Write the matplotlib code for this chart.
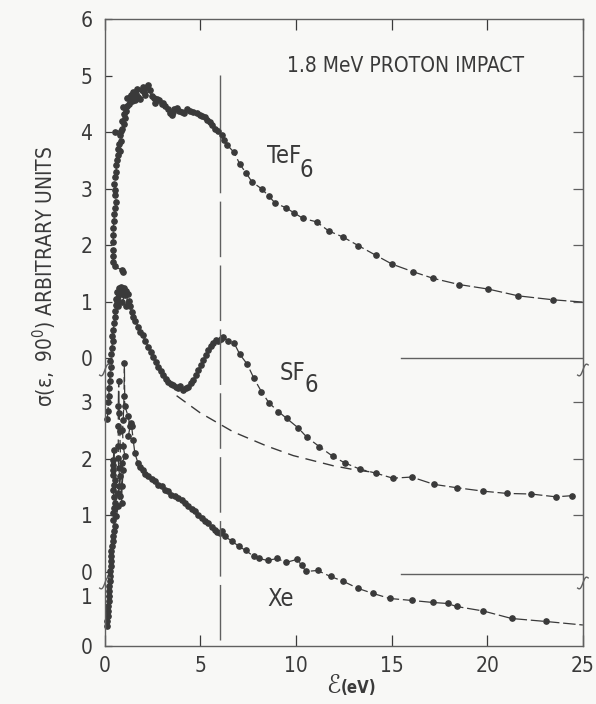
import numpy as np
import matplotlib
matplotlib.use('Agg')
import matplotlib.pyplot as plt

plt.rcParams['font.family'] = 'DejaVu Sans'
plt.rcParams['font.stretch'] = 'condensed'
plt.rcParams['mathtext.default'] = 'regular'

INK = '#3a3a3a'
GREY = '#606060'

# TeF6 curve, E in eV, sigma in arbitrary units of its own panel
tef6_E = [0.94, 0.87, 0.52, 0.45, 0.42, 0.44, 0.42, 0.45, 0.44, 0.47, 0.50, 0.55,
          0.58, 0.52, 0.55, 0.50, 0.54, 0.60, 0.58, 0.63, 0.70, 0.66, 0.78, 0.75,
          0.84, 0.78, 0.52, 0.82, 0.92, 0.98, 0.88, 1.05, 1.00, 1.10, 0.95, 1.13,
          1.25, 1.18, 1.40, 1.30, 1.45, 1.52, 1.38, 1.62, 1.70, 1.75, 1.58, 1.85,
          1.92, 2.05, 1.98, 2.18, 2.27, 2.12, 2.35, 2.44, 2.55, 2.70, 2.62, 2.82,
          2.98, 3.14, 3.05, 3.28, 3.40, 3.49, 3.55, 3.62, 3.75, 3.90, 4.01, 4.15,
          4.30, 4.45, 4.60, 4.80, 4.95, 5.10, 5.23, 5.35, 5.49, 5.62, 5.75, 5.90,
          6.10, 6.25, 6.40, 6.75, 7.06, 7.37, 7.69, 8.21, 8.56, 8.91, 9.47, 9.88,
          10.37, 11.07, 11.70, 12.46, 13.25, 14.16, 15.03, 16.09, 17.17, 18.53,
          20.05, 21.62, 23.45, 25.0]
tef6_s = [1.52, 1.56, 1.62, 1.70, 1.80, 1.92, 2.05, 2.18, 2.30, 2.42, 2.55, 2.66,
          2.76, 2.88, 2.98, 3.08, 3.20, 3.30, 3.42, 3.50, 3.60, 3.70, 3.66, 3.78,
          3.84, 3.94, 4.00, 4.02, 4.06, 4.15, 4.20, 4.24, 4.32, 4.38, 4.45, 4.46,
          4.50, 4.60, 4.55, 4.62, 4.70, 4.60, 4.66, 4.68, 4.76, 4.62, 4.56, 4.58,
          4.74, 4.70, 4.80, 4.80, 4.84, 4.66, 4.74, 4.64, 4.60, 4.58, 4.52, 4.56,
          4.50, 4.46, 4.52, 4.40, 4.34, 4.30, 4.36, 4.40, 4.42, 4.38, 4.36, 4.34,
          4.40, 4.38, 4.35, 4.33, 4.30, 4.28, 4.26, 4.22, 4.18, 4.12, 4.06, 4.02,
          3.95, 3.85, 3.77, 3.64, 3.43, 3.28, 3.12, 2.99, 2.87, 2.74, 2.66, 2.57,
          2.47, 2.41, 2.25, 2.14, 1.99, 1.82, 1.66, 1.53, 1.41, 1.30,
          1.22, 1.10, 1.03, 0.99]

# SF6 curve
sf6_E = [0.12, 0.16, 0.18, 0.22, 0.20, 0.25, 0.27, 0.30, 0.28, 0.33, 0.36, 0.40,
         0.38, 0.44, 0.48, 0.52, 0.55, 0.60, 0.58, 0.65, 0.72, 0.62, 0.80, 0.85,
         0.70, 0.92, 1.00, 0.90, 1.05, 1.12, 1.20, 1.10, 1.25, 1.32, 1.40, 1.48,
         1.60, 1.74, 1.85, 2.00, 2.12, 2.27, 2.40, 2.53, 2.65, 2.79, 2.92, 3.05,
         3.18, 3.31, 3.45, 3.57, 3.70, 3.83, 3.95, 4.10, 4.22, 4.36, 4.50, 4.62,
         4.75, 4.88, 5.01, 5.14, 5.27, 5.40, 5.53, 5.66, 5.80, 5.93, 6.05, 6.19,
         6.45, 6.76, 7.06, 7.44, 7.79, 8.19, 8.59, 9.07, 9.50, 10.11, 10.55, 11.21,
         11.91, 12.55, 13.34, 14.16, 15.06, 16.05, 17.22, 18.43, 19.79, 21.04,
         22.28, 23.59, 24.41]
sf6_s = [2.70, 2.85, 3.00, 3.12, 3.25, 3.38, 3.50, 3.62, 3.74, 3.85, 3.96, 4.08,
         4.18, 4.28, 4.40, 4.52, 4.62, 4.72, 4.84, 4.95, 5.02, 4.80, 4.92, 5.04,
         4.70, 4.96, 5.02, 4.78, 4.90, 4.98, 4.92, 4.70, 4.80, 4.70, 4.60, 4.52,
         4.45, 4.34, 4.25, 4.19, 4.08, 3.99, 3.90, 3.81, 3.72, 3.63, 3.55, 3.49,
         3.42, 3.37, 3.33, 3.31, 3.27, 3.25, 3.30, 3.22, 3.26, 3.28, 3.34, 3.40,
         3.48, 3.58, 3.66, 3.75, 3.84, 3.93, 4.00, 4.05, 4.10, 4.08, 4.12, 4.16,
         4.08, 4.05, 3.85, 3.68, 3.43, 3.19, 2.99, 2.84, 2.72, 2.55, 2.39, 2.22,
         2.05, 1.93, 1.82, 1.75, 1.66, 1.68, 1.55, 1.49, 1.43, 1.39,
         1.38, 1.33, 1.35]

# SF6 background (dashed)
sf6_bg_E = [3.75, 4.97, 6.71, 8.46, 9.85, 11.94, 13.20, 14.20]
sf6_bg_s = [3.12, 2.82, 2.48, 2.23, 2.06, 1.88, 1.80, 1.76]

# Xe curve
xe_E = [0.09, 0.13, 0.17, 0.17, 0.17, 0.20, 0.23, 0.22, 0.23, 0.26, 0.26, 0.28,
        0.30, 0.30, 0.31, 0.33, 0.35, 0.40, 0.44, 0.48, 0.52, 0.45, 0.44, 0.50,
        0.52, 0.47, 0.44, 0.50, 0.52, 0.45, 0.44, 0.42, 0.44, 0.47,
        0.60, 0.70, 0.78, 0.70, 0.75, 0.78, 0.72, 0.70, 0.70, 0.70, 0.70, 0.72,
        0.75, 0.78, 0.87, 0.90, 0.96, 0.87, 1.05, 0.96, 0.92, 0.96, 1.00, 1.02,
        1.04, 1.22, 1.31, 1.22, 1.35, 1.40, 1.48, 1.57, 1.74, 1.85, 2.00, 2.12,
        2.27, 2.45, 2.62, 2.80, 2.97, 3.14, 3.31, 3.48, 3.66, 3.84, 4.01, 4.18,
        4.36, 4.53, 4.71, 4.88, 5.06, 5.23, 5.40, 5.58, 5.75, 5.88, 6.01, 6.10,
        6.28, 6.63, 7.02, 7.37, 7.79, 8.07, 8.51, 9.01, 9.47, 10.03, 10.29, 10.51,
        11.12, 11.80, 12.43, 13.25, 14.03, 14.90, 16.07, 17.17, 17.92, 18.39,
        19.79, 21.27, 23.07, 25.0]
xe_s = [0.39, 0.50, 0.59, 0.70, 0.79, 0.90, 0.99, 1.10, 1.19, 1.30, 1.39, 1.50,
        1.59, 1.70, 1.79, 1.90, 1.99, 2.10, 2.19, 2.30, 2.39, 2.52, 2.65, 2.75,
        2.85, 2.98, 3.12, 3.22, 3.32, 3.42, 3.52, 3.62, 3.72, 3.92,
        2.60, 2.79, 3.00, 3.05, 3.20, 3.39, 3.55, 3.75, 4.00, 4.40, 4.80, 5.30,
        4.66, 4.30, 2.85, 3.19, 3.52, 3.65, 3.79, 3.99, 4.32, 4.52, 5.00, 5.66,
        4.80, 4.59, 4.39, 4.19, 4.45, 4.39, 4.12, 3.85, 3.65, 3.58, 3.52, 3.44,
        3.39, 3.33, 3.29, 3.22, 3.19, 3.12, 3.09, 3.02, 2.99, 2.95, 2.92, 2.85,
        2.79, 2.74, 2.69, 2.62, 2.55, 2.50, 2.45, 2.38, 2.32, 2.28, 2.25, 2.30,
        2.19, 2.10, 1.99, 1.91, 1.79, 1.75, 1.71, 1.75, 1.67, 1.73, 1.62, 1.49,
        1.51, 1.39, 1.30, 1.15, 1.05, 0.95, 0.91, 0.87, 0.85, 0.79,
        0.70, 0.55, 0.49, 0.42]

# panel placement on the common vertical scale (in TeF6 units)
TEF6_OFFSET, TEF6_SCALE = 5.097, 1.0
SF6_OFFSET, SF6_SCALE = 1.31, 1.0
XE_OFFSET, XE_SCALE = 0.0, 0.885

tef6_ticks = [0, 1, 2, 3, 4, 5, 6]
sf6_ticks = [0, 1, 2, 3]
xe_ticks = [0, 1]
x_ticks = [0, 5, 10, 15, 20, 25]


def place(vals, offset, scale):
    return offset + scale * np.asarray(vals)


fig = plt.figure(figsize=(5.96, 7.04), dpi=100, facecolor='#f8f8f6')
ax = fig.add_axes([0.176, 0.0824, 0.802, 0.8906])
ax.set_facecolor('#f8f8f6')
ax.set_xlim(0, 25)
ax.set_ylim(0, 11.097)

curve_style = dict(color=INK, lw=0.9, ls=(0, (10, 3)), marker='o', ms=3.8,
                   mec=INK, mfc=INK, clip_on=False)
ax.plot(tef6_E, place(tef6_s, TEF6_OFFSET, TEF6_SCALE), markevery=slice(0, -1), **curve_style)
ax.plot(sf6_E, place(sf6_s, SF6_OFFSET, SF6_SCALE), **curve_style)
ax.plot(xe_E, place(xe_s, XE_OFFSET, XE_SCALE), markevery=slice(0, -1), **curve_style)
ax.plot(sf6_bg_E, place(sf6_bg_s, SF6_OFFSET, SF6_SCALE), color=INK, lw=1.0,
        ls=(0, (8, 5)))

# vertical marker at 6 eV
ax.plot([6, 6], [0.1, 10.1], color=GREY, lw=1.0, ls=(0, (40, 6)))

# zero lines of the upper panels
ax.plot([15.5, 25], [TEF6_OFFSET, TEF6_OFFSET], color=GREY, lw=1.0)
ax.plot([15.5, 25], [SF6_OFFSET - 0.03, SF6_OFFSET - 0.03], color=GREY, lw=1.0)

# ticks
yticks = ([TEF6_OFFSET + TEF6_SCALE * t for t in tef6_ticks]
          + [SF6_OFFSET + SF6_SCALE * t for t in sf6_ticks]
          + [XE_OFFSET + XE_SCALE * t for t in xe_ticks])
ylabels = [str(t) for t in tef6_ticks + sf6_ticks + xe_ticks]
ax.set_yticks(yticks)
ax.set_yticklabels(ylabels)
ax.set_xticks(x_ticks)
ax.tick_params(axis='y', direction='in', length=5, width=0.9, pad=9,
               labelsize=15, colors=INK)
ax.tick_params(axis='x', direction='in', length=8, width=0.9, pad=7,
               labelsize=15, colors=INK, top=True)

sec = ax.secondary_yaxis('right')
sec.set_yticks([TEF6_OFFSET + t for t in [1, 2, 3, 4, 5]]
               + [SF6_OFFSET + t for t in [1, 2, 3]])
sec.tick_params(direction='in', length=7, width=0.9, labelright=False, colors=GREY)
sec.spines['right'].set_color(GREY)

for sp in ax.spines.values():
    sp.set_color(GREY)
    sp.set_linewidth(1.0)

# axis break squiggles
t = np.linspace(-1, 1, 25)
for yb in [4.885, 1.115]:
    for xb in [0.0, 1.0]:
        ax.plot(xb + 0.011 * t, yb + 0.09 * t + 0.05 * np.sin(np.pi * t),
                transform=ax.get_yaxis_transform(), color=GREY, lw=1.0,
                clip_on=False)

# labels
ax.text(9.52, 10.16, '1.8 MeV PROTON IMPACT', fontsize=15, color=INK,
        ha='left', va='baseline')
ax.text(8.5, (646 - 163) / 56.5, 'TeF', fontsize=17, color=INK, va='baseline')
ax.text(10.2, (646 - 177) / 56.5, '6', fontsize=17, color=INK, va='baseline')
ax.text(9.15, (646 - 380) / 56.5, 'SF', fontsize=17, color=INK, va='baseline')
ax.text(10.45, (646 - 392) / 56.5, '6', fontsize=17, color=INK, va='baseline')
ax.text(8.5, (646 - 606) / 56.5, 'Xe', fontsize=17, color=INK, va='baseline')

ax.text(-0.125, 0.59, r'$\sigma(\varepsilon,\ 90^0)$ ARBITRARY UNITS',
        transform=ax.transAxes, rotation=90, fontsize=15, color=INK,
        ha='center', va='center')
ax.text(12.3, -0.075, 'ℰ', transform=ax.get_xaxis_transform(), fontsize=19,
        color=INK, ha='right', va='baseline')
ax.text(12.35, -0.075, '(eV)', transform=ax.get_xaxis_transform(), fontsize=12,
        color=INK, ha='left', va='baseline', fontweight='bold')

fig.savefig('out.png', dpi=100, facecolor=fig.get_facecolor())
